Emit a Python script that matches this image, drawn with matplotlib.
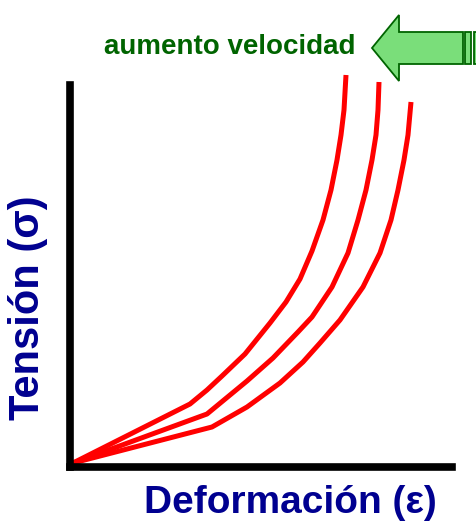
import numpy as np
import matplotlib
matplotlib.use("Agg")
import matplotlib.pyplot as plt
from matplotlib.patches import Polygon, Rectangle

# strain / stress (arbitrary units), one curve per strain rate
strain_slow = [3, 142, 177, 210, 233, 250, 270, 293, 310, 321, 328, 334, 338, 341]
stress_slow = [4, 40, 60, 84, 105, 124, 147, 180, 214, 247, 277, 307, 332, 365]
strain_mid = [3, 137, 177, 203, 228, 242, 262, 278, 288, 296, 302, 306, 308, 309]
stress_mid = [4, 53, 86, 109, 135, 150, 180, 214, 247, 277, 307, 332, 357, 385]
strain_fast = [3, 120, 137, 152, 175, 200, 216, 230, 242, 253, 261, 267, 271, 274, 276]
stress_fast = [4, 63, 77, 91, 113, 144, 165, 188, 216, 247, 277, 307, 332, 357, 392]

xlabel = "Deformación (ε)"
ylabel = "Tensión (σ)"
arrow_label = "aumento velocidad"

W, H = 477, 524
fig = plt.figure(figsize=(W / 100, H / 100), dpi=100)
fig.set_facecolor('w')

# main axes: only the left and bottom spines, thick and black
ax = fig.add_axes([70 / W, 57 / H, 382 / W, 382 / H])
ax.set_xlim(0, 382)
ax.set_ylim(0, 382)
for s in ['top', 'right']:
    ax.spines[s].set_visible(False)
for s in ['left', 'bottom']:
    ax.spines[s].set_linewidth(5.5)
    ax.spines[s].set_color('black')
    ax.spines[s].set_capstyle('projecting')
ax.set_xticks([])
ax.set_yticks([])
ax.patch.set_alpha(0)

for xs, ys in [(strain_slow, stress_slow), (strain_mid, stress_mid), (strain_fast, stress_fast)]:
    ax.plot(xs, ys, color='#ff0000', lw=3.6, solid_joinstyle='round',
            solid_capstyle='butt', clip_on=False)

# overlay in pixel units for the labels and the arrow
ov = fig.add_axes([0, 0, 1, 1])
ov.set_xlim(0, W)
ov.set_ylim(H, 0)
ov.axis('off')
ov.patch.set_alpha(0)

blue = '#000090'
green_dark = '#006400'
green_fill = '#7ade7a'
fam = ['Liberation Sans', 'DejaVu Sans']

ov.text(290, 503, xlabel, ha='center', va='center', fontsize=28,
        fontweight='bold', color=blue, family=fam)
ov.text(28, 308, ylabel, ha='center', va='center', fontsize=30, rotation=90,
        fontweight='bold', color=blue, family=fam)
ov.text(230, 47, arrow_label, ha='center', va='center', fontsize=20,
        fontweight='bold', color=green_dark, family=fam)

arrow = Polygon([(372, 48), (399, 15), (399, 32), (463, 32), (463, 64),
                 (399, 64), (399, 81)], closed=True, facecolor=green_fill,
                edgecolor=green_dark, lw=1.3)
ov.add_patch(arrow)
ov.add_patch(Rectangle((465, 32), 6, 32, facecolor=green_fill, edgecolor=green_dark, lw=1.3))
ov.add_patch(Rectangle((474, 32), 6, 32, facecolor=green_fill, edgecolor=green_dark, lw=1.3,
                       clip_on=False))

fig.savefig('out.png', dpi=100)
